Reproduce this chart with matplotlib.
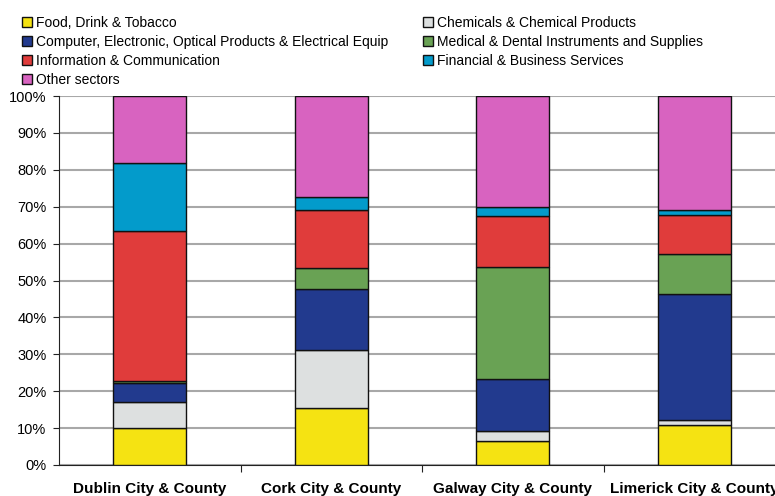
import numpy as np
import matplotlib.pyplot as plt
from matplotlib.patches import Rectangle

plt.rcParams['font.family'] = ['Liberation Sans', 'DejaVu Sans']

# Regiones y participacion por sector (%)
regions = ['Dublin City & County', 'Cork City & County',
           'Galway City & County', 'Limerick City & County']
sectors = ['Food, Drink & Tobacco',
           'Chemicals & Chemical Products',
           'Computer, Electronic, Optical Products & Electrical Equip',
           'Medical & Dental Instruments and Supplies',
           'Information & Communication',
           'Financial & Business Services',
           'Other sectors']
food = [10.1, 15.5, 6.5, 10.8]
chemicals = [7.0, 15.8, 2.7, 1.4]
computer = [5.0, 16.4, 14.2, 34.1]
medical = [0.7, 5.6, 30.3, 10.8]
info = [40.5, 15.7, 13.7, 10.7]
financial = [18.5, 3.5, 2.6, 1.3]
other = [18.2, 27.5, 30.0, 30.9]
colors = ['#F5E312', '#DDE0E0', '#223A8E', '#69A254',
          '#E03C3B', '#039BCB', '#D863C0']

series = [food, chemicals, computer, medical, info, financial, other]

fig = plt.figure(figsize=(7.75, 4.96), dpi=100)
ax = fig.add_axes([59/775, 1-465/496, 726/775, 369/496])

x = np.arange(len(regions))
bottom = np.zeros(len(regions))
for vals, col in zip(series, colors):
    ax.bar(x, vals, width=0.4, bottom=bottom, color=col,
           edgecolor='#111111', linewidth=1.0, zorder=3)
    bottom += np.array(vals)

ax.set_xlim(-0.5, len(regions) - 0.5)
ax.set_ylim(0, 100)
ax.set_yticks(np.arange(0, 101, 10))
ax.set_yticklabels([f'{v}%' for v in range(0, 101, 10)], fontsize=10.5)
ax.grid(axis='y', color='#a8a8a8', linewidth=1.5, zorder=0)

# ticks del eje x en los limites entre categorias
ax.set_xticks(np.arange(0.5, len(regions) - 0.5, 1.0))
ax.set_xticklabels([])
ax.set_xticks(x, minor=True)
ax.set_xticklabels(regions, minor=True, fontsize=11, fontweight='bold')
ax.tick_params(axis='x', which='minor', length=0, pad=12.5)
ax.tick_params(axis='x', which='major', length=5, color='#222222', direction='out')
ax.tick_params(axis='y', length=4, color='#222222', pad=5)

for s in ['top', 'right']:
    ax.spines[s].set_visible(False)
ax.spines['left'].set_color('#222222')
ax.spines['bottom'].set_color('#222222')

handles = [Rectangle((0, 0), 1, 1, facecolor=c, edgecolor='#111111', linewidth=1.0)
           for c in colors]
order = [0, 2, 4, 6, 1, 3, 5]
fig.legend([handles[i] for i in order], [sectors[i] for i in order],
           loc='upper left', bbox_to_anchor=(0.016, 0.988), ncol=2,
           frameon=False, fontsize=10, handlelength=0.72, handleheight=0.7,
           handletextpad=0.3, labelspacing=0.36, columnspacing=2.5,
           borderaxespad=0.3)

plt.savefig('out.png', dpi=100)
